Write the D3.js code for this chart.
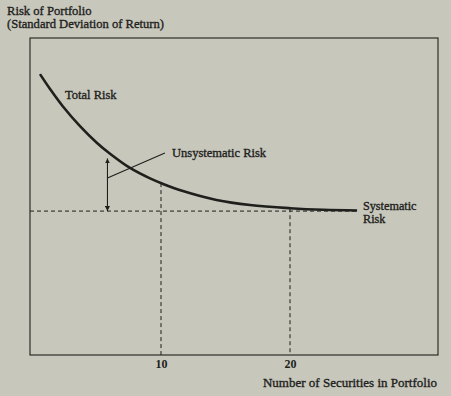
<!DOCTYPE html>
<html><head><meta charset="utf-8">
<script src="https://cdn.jsdelivr.net/npm/d3@7"></script>
<style>
html,body{margin:0;padding:0;background:#c7c7bc;}
svg{display:block;}
text{font-family:"Liberation Serif","DejaVu Serif",serif;fill:#1f1f1c;stroke:#1f1f1c;stroke-width:0.35px;}
</style></head><body>
<svg id="c" width="451" height="396"></svg>
<script>
// Data
const totalRiskX = [0.62,1.4,2.4,3.72,5.04,6.05,7.6,9.15,10.08,11.7,14.3,16.9,20,22.6,25.2];
const totalRiskY = [88.6,83.9,78.4,72.2,66.9,63.5,59.0,55.7,54.1,51.7,48.9,47.3,46.3,45.8,45.6];
const systematicRisk = 45.4;
const xTicks = [10, 20];
const xTickLabels = ["10", "20"];
const guideX = [10, 20];
const arrowX = 5.85, arrowTop = 62.0;
const leader = [[5.85, 55.8], [10.3, 63.7]];

const svg = d3.select("#c");
const x = d3.scaleLinear().domain([0, 20]).range([32, 290]);
const y = d3.scaleLinear().domain([0, 100]).range([355, 38]);
const frame = {x0: 30, x1: 438, y0: 38, y1: 355};
const ink = "#1f1f1c";

// frame
svg.append("rect").attr("x", frame.x0).attr("y", frame.y0)
  .attr("width", frame.x1 - frame.x0).attr("height", frame.y1 - frame.y0)
  .attr("fill", "none").attr("stroke", ink).attr("stroke-width", 1.1);

const data = totalRiskX.map((d, i) => ({x: d, y: totalRiskY[i]}));
const curve = d3.line().x(d => x(d.x)).y(d => y(d.y)).curve(d3.curveCatmullRom.alpha(0.5));

function curveAt(xv) {
  for (let i = 0; i < data.length - 1; i++) {
    if (xv >= data[i].x && xv <= data[i+1].x) {
      const t = (xv - data[i].x) / (data[i+1].x - data[i].x);
      return data[i].y + t * (data[i+1].y - data[i].y);
    }
  }
  return data[data.length-1].y;
}

// systematic dashed line
svg.append("line").attr("x1", frame.x0).attr("x2", x(totalRiskX[totalRiskX.length-1]))
  .attr("y1", y(systematicRisk)).attr("y2", y(systematicRisk))
  .attr("stroke", ink).attr("stroke-width", 1).attr("stroke-dasharray", "4,3");

// vertical guides
guideX.forEach(g => {
  svg.append("line").attr("x1", x(g)).attr("x2", x(g))
    .attr("y1", y(curveAt(g))).attr("y2", frame.y1)
    .attr("stroke", ink).attr("stroke-width", 1).attr("stroke-dasharray", "4,3");
});

// total risk curve
svg.append("path").datum(data).attr("d", curve)
  .attr("fill", "none").attr("stroke", ink).attr("stroke-width", 2.6);

// double arrow
const defs = svg.append("defs");
defs.append("marker").attr("id", "ah").attr("viewBox", "0 0 10 10")
  .attr("refX", 10).attr("refY", 5).attr("markerWidth", 5).attr("markerHeight", 5)
  .attr("markerUnits", "userSpaceOnUse").attr("orient", "auto-start-reverse")
  .append("path").attr("d", "M0,0L10,5L0,10Z").attr("fill", ink);
svg.append("line").attr("x1", x(arrowX)).attr("x2", x(arrowX))
  .attr("y1", y(arrowTop)).attr("y2", y(systematicRisk))
  .attr("stroke", ink).attr("stroke-width", 1.1)
  .attr("marker-start", "url(#ah)").attr("marker-end", "url(#ah)");

// leader line
svg.append("line").attr("x1", x(leader[0][0])).attr("y1", y(leader[0][1]))
  .attr("x2", x(leader[1][0])).attr("y2", y(leader[1][1]))
  .attr("stroke", ink).attr("stroke-width", 1.1);

// labels
svg.append("text").attr("x", 65).attr("y", 99).attr("font-size", 12.5).text("Total Risk");
svg.append("text").attr("x", 172).attr("y", 157).attr("font-size", 12.5).text("Unsystematic Risk");
svg.append("text").attr("x", 363).attr("y", 209.5).attr("font-size", 12.2).text("Systematic");
svg.append("text").attr("x", 363).attr("y", 222.5).attr("font-size", 12.2).text("Risk");

svg.append("text").attr("x", 7).attr("y", 15).attr("font-size", 12.6).text("Risk of Portfolio");
svg.append("text").attr("x", 7).attr("y", 27.5).attr("font-size", 12.6).text("(Standard Deviation of Return)");

// x axis ticks
const ax = svg.append("g").attr("transform", `translate(0,${frame.y1})`)
  .call(d3.axisBottom(x).tickValues(xTicks).tickSize(0).tickPadding(4)
    .tickFormat((d, i) => xTickLabels[i]));
ax.select(".domain").remove();
ax.selectAll("text").attr("font-size", 12).attr("font-weight", "bold")
  .attr("font-family", "Liberation Serif, serif").attr("fill", ink).style("stroke", "none");

svg.append("text").attr("x", 437).attr("y", 387).attr("text-anchor", "end")
  .attr("font-size", 13).text("Number of Securities in Portfolio");
</script>
</body></html>
